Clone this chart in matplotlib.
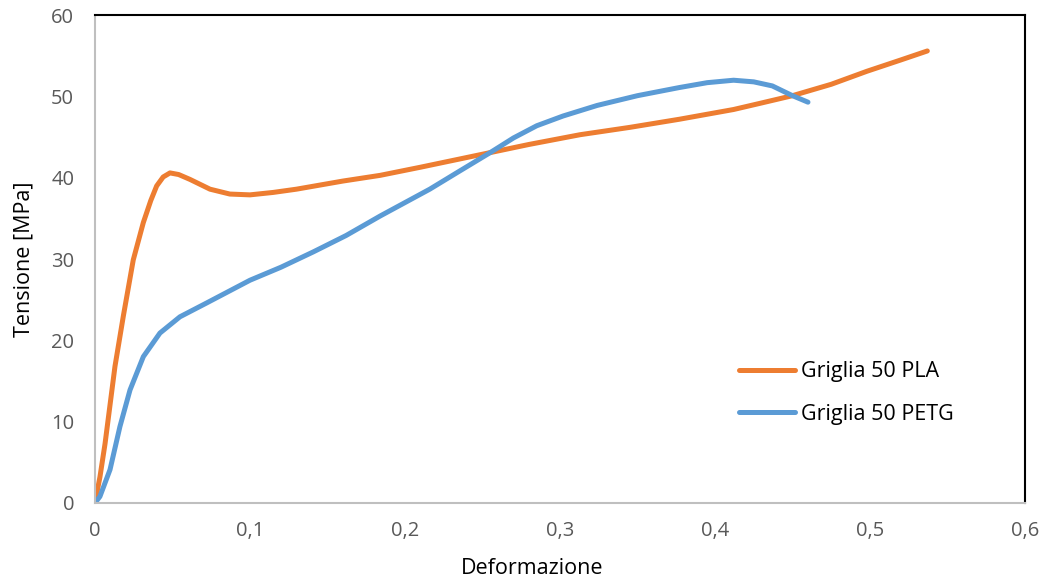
import matplotlib
matplotlib.use("Agg")
import matplotlib.pyplot as plt
from matplotlib.ticker import FuncFormatter

# Griglia 50 PLA
pla_strain = [0, 0.0032, 0.0065, 0.0129, 0.0183, 0.0247, 0.0312, 0.036, 0.0398, 0.044,
              0.0484, 0.054, 0.0613, 0.0742, 0.087, 0.1, 0.115, 0.13, 0.145, 0.16,
              0.184, 0.21, 0.235, 0.255, 0.28, 0.313, 0.345, 0.377, 0.412, 0.43,
              0.45, 0.475, 0.498, 0.52, 0.537]
pla_stress = [0, 3.2, 7.3, 16.8, 23.0, 29.9, 34.5, 37.2, 39.0, 40.1,
              40.6, 40.4, 39.8, 38.6, 38.0, 37.9, 38.2, 38.6, 39.1, 39.6,
              40.3, 41.3, 42.3, 43.1, 44.1, 45.3, 46.2, 47.2, 48.4, 49.2,
              50.1, 51.5, 53.1, 54.5, 55.6]

# Griglia 50 PETG
petg_strain = [0, 0.0032, 0.0097, 0.0161, 0.0226, 0.0312, 0.0419, 0.0548, 0.072, 0.1,
               0.12, 0.141, 0.162, 0.184, 0.216, 0.235, 0.255, 0.27, 0.285, 0.302,
               0.324, 0.35, 0.377, 0.395, 0.412, 0.425, 0.437, 0.45, 0.46]
petg_stress = [0, 0.8, 4.1, 9.4, 13.9, 18.0, 20.9, 22.9, 24.6, 27.4,
               29.0, 30.9, 32.9, 35.3, 38.6, 40.8, 43.1, 44.9, 46.4, 47.6,
               48.9, 50.1, 51.1, 51.7, 52.0, 51.8, 51.3, 50.1, 49.3]

x_ticks = [0, 0.1, 0.2, 0.3, 0.4, 0.5, 0.6]
y_ticks = [0, 10, 20, 30, 40, 50, 60]

plt.rcParams['font.family'] = ['Open Sans', 'DejaVu Sans']

fig = plt.figure(figsize=(10.46, 5.84), dpi=100)
ax = fig.add_axes([0.0908, 0.1387, 0.8891, 0.8353])

ax.plot(pla_strain, pla_stress, color='#ED7D31', lw=3.6,
        solid_capstyle='round', solid_joinstyle='round', label='Griglia 50 PLA')
ax.plot(petg_strain, petg_stress, color='#5B9BD5', lw=3.6,
        solid_capstyle='round', solid_joinstyle='round', label='Griglia 50 PETG')

ax.set_xlim(0, 0.6)
ax.set_ylim(0, 60)
ax.set_xticks(x_ticks)
ax.set_yticks(y_ticks)
ax.xaxis.set_major_formatter(FuncFormatter(lambda v, p: ('%g' % v).replace('.', ',')))
ax.tick_params(length=0, labelsize=14.5, labelcolor='#595959')
ax.tick_params(axis='x', pad=13)
ax.tick_params(axis='y', pad=15)

for s in ['left', 'bottom']:
    ax.spines[s].set_color('#BFBFBF')
    ax.spines[s].set_linewidth(1.5)
for s in ['top', 'right']:
    ax.spines[s].set_color('black')
    ax.spines[s].set_linewidth(1.5)

ax.set_xlabel('Deformazione', fontsize=15.5)
ax.xaxis.set_label_coords(0.47, -0.112)
ax.set_ylabel('Tensione [MPa]', fontsize=15.5, labelpad=12)

ax.legend(loc='upper left', bbox_to_anchor=(0.672, 0.33), frameon=False,
          fontsize=15.5, handlelength=2.6, handletextpad=0.25, labelspacing=1.0)

fig.savefig('out.png', dpi=100)
